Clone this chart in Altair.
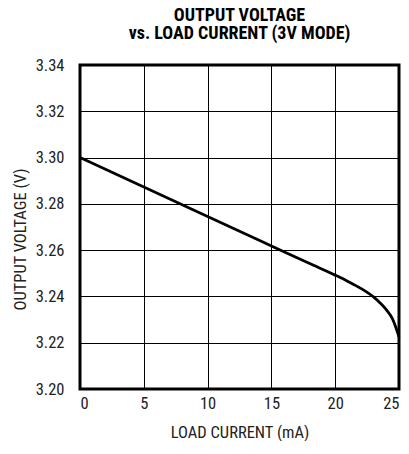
import altair as alt
import pandas as pd

current_ma = [0, 5, 10, 15, 18, 20, 21, 22, 23, 23.5, 24, 24.5, 25]
voltage_v = [3.300, 3.2873, 3.2745, 3.2618, 3.2542, 3.2492, 3.2465, 3.2435,
             3.2398, 3.2373, 3.2343, 3.2302, 3.2225]

x_ticks = [0, 5, 10, 15, 20, 25]
y_ticks = [3.20, 3.22, 3.24, 3.26, 3.28, 3.30, 3.32, 3.34]

df = pd.DataFrame({"current": current_ma, "voltage": voltage_v})

FONT = "Liberation Sans Narrow, Arial Narrow, Roboto Condensed, sans-serif"

chart = alt.Chart(df).mark_line(
    color="black", strokeWidth=2.8, interpolate="monotone"
).encode(
    x=alt.X("current:Q",
            scale=alt.Scale(domain=[0, 25], nice=False),
            axis=alt.Axis(values=x_ticks, title="LOAD CURRENT (mA)",
                          labelPadding=6, titleY=43, titleBaseline="middle")),
    y=alt.Y("voltage:Q",
            scale=alt.Scale(domain=[3.20, 3.34], nice=False, zero=False),
            axis=alt.Axis(values=y_ticks, format=".2f", title="OUTPUT VOLTAGE (V)",
                          labelPadding=16, titleX=-60, titleY=174,
                          titleBaseline="middle")),
).properties(
    width=319,
    height=324,
    background="white",
    title=alt.Title(["OUTPUT VOLTAGE", "vs. LOAD CURRENT (3V MODE)"],
                    font=FONT, fontSize=18, fontWeight="bold", color="black",
                    anchor="middle", offset=14, lineHeight=18),
    autosize=alt.AutoSizeParams(type="none"),
    padding={"left": 72, "top": 57, "right": 2, "bottom": 52},
).configure_view(
    stroke="black", strokeWidth=3
).configure_axis(
    domain=False, ticks=False, grid=True, gridColor="black", gridWidth=1,
    gridOpacity=1, labelFont=FONT, labelFontSize=16.5, labelColor="#222",
    titleFont=FONT, titleFontSize=16.5, titleFontWeight="normal", titleColor="#222",
)

chart.save("out.html", embed_options={"renderer": "svg", "actions": False})
